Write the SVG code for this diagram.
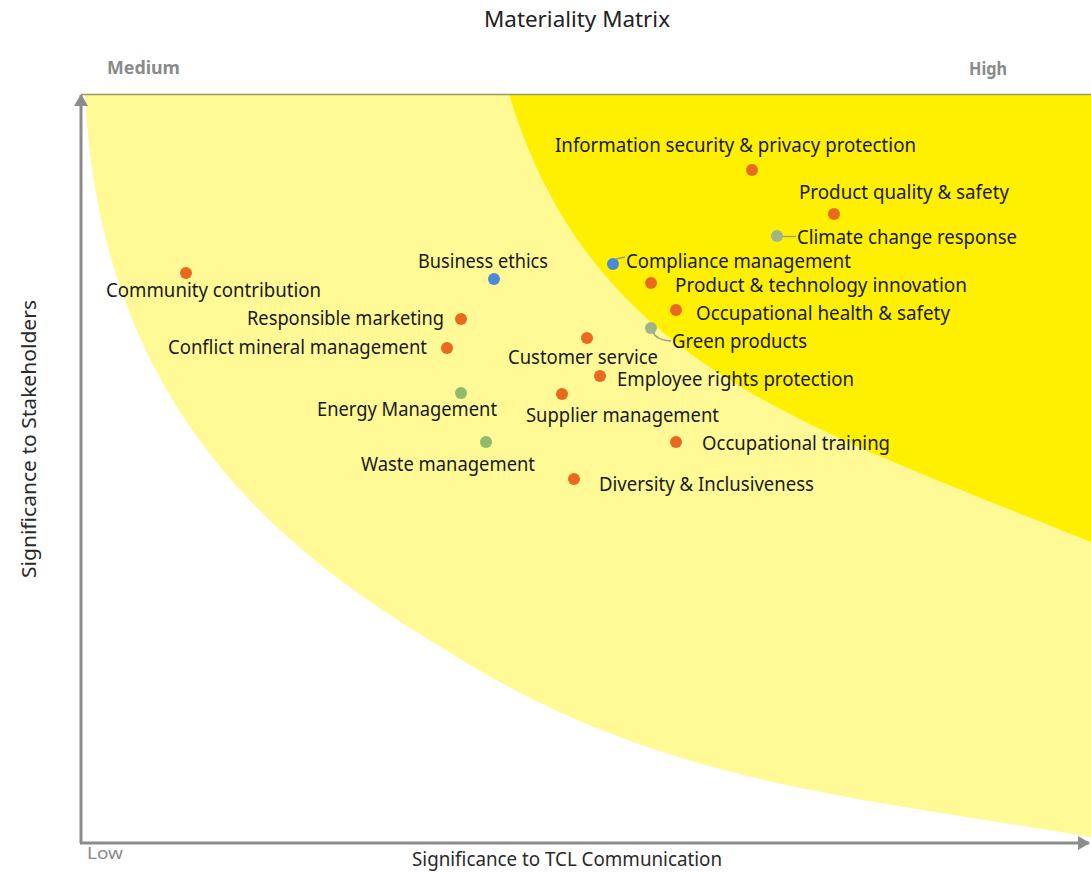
<svg xmlns="http://www.w3.org/2000/svg" width="1091" height="873" viewBox="0 0 1091 873">
<style>
.lbl{font-family:"Noto Sans","Liberation Sans",sans-serif;font-size:19.5px;fill:#1a1a1a}
.axl{font-family:"Noto Sans","Liberation Sans",sans-serif;font-size:19px;fill:#2a2a2a}
.lvl{font-family:"Noto Sans","Liberation Sans",sans-serif;font-size:18px;font-weight:bold;fill:#8a8a8a}
.or{fill:#E96A1E}
.bl{fill:#4A8AD6}
.gr{fill:#90BA6C}
.gg{fill:#A0B48C}
.lead{fill:none;stroke:#9a9a8a;stroke-width:1.3}
.axis{stroke:#8c8c8c;stroke-width:3;fill:none}
</style>
<defs>
<marker id="ah" viewBox="0 0 12 14" refX="11" refY="7" markerWidth="12" markerHeight="14" markerUnits="userSpaceOnUse" orient="auto">
<path d="M0,0 L12,7 L0,14 Z" fill="#8c8c8c"/>
</marker>
</defs>
<rect width="1091" height="873" fill="#ffffff"/>
<g id="zones">
<path d="M85,94 C100,400 270,545 441,647 C651,782 841,795 1091,837 L1091,94 Z" fill="#FFF996"/>
<path d="M509,94 C590,363 800,424 1091,542 L1091,94 Z" fill="#FFF000"/>
<line x1="81" y1="94.5" x2="1091" y2="94.5" stroke="#9a9a62" stroke-width="1.5"/>
</g>
<g id="axes">
<line class="axis" x1="81" y1="843" x2="81" y2="95" marker-end="url(#ah)"/>
<line class="axis" x1="80" y1="843" x2="1089" y2="843" marker-end="url(#ah)"/>
</g>
<text x="577" y="27" text-anchor="middle" font-family="Noto Sans, Liberation Sans, sans-serif" font-size="22" fill="#222" textLength="186" lengthAdjust="spacingAndGlyphs">Materiality Matrix</text>
<text class="lvl" x="107" y="74" textLength="73" lengthAdjust="spacingAndGlyphs">Medium</text>
<text class="lvl" x="969" y="75" textLength="38" lengthAdjust="spacingAndGlyphs">High</text>
<text x="87" y="859" font-family="Noto Sans, Liberation Sans, sans-serif" font-size="16" fill="#8a8a8a" textLength="36" lengthAdjust="spacingAndGlyphs">Low</text>
<text class="axl" x="412" y="866" textLength="310" lengthAdjust="spacingAndGlyphs">Significance to TCL Communication</text>
<text class="axl" transform="translate(36,578) rotate(-90)" x="0" y="0" textLength="278" lengthAdjust="spacingAndGlyphs">Significance to Stakeholders</text>
<g id="connectors">
<path class="lead" d="M782,236.5 L796,236.5"/>
<path class="lead" d="M616,259 L625,257"/>
<path class="lead" d="M653,332 Q656,340 671,341"/>
</g>
<g id="n-infosec"><circle class="or" cx="752" cy="170" r="6"/><text class="lbl" x="555" y="152" textLength="361" lengthAdjust="spacingAndGlyphs">Information security &amp; privacy protection</text></g>
<g id="n-quality"><circle class="or" cx="834" cy="214" r="6"/><text class="lbl" x="799" y="199" textLength="210" lengthAdjust="spacingAndGlyphs">Product quality &amp; safety</text></g>
<g id="n-climate"><circle class="gg" cx="777" cy="236" r="6"/><text class="lbl" x="797" y="244" textLength="220" lengthAdjust="spacingAndGlyphs">Climate change response</text></g>
<g id="n-compliance"><circle class="bl" cx="613" cy="264" r="6"/><text class="lbl" x="626" y="268" textLength="225" lengthAdjust="spacingAndGlyphs">Compliance management</text></g>
<g id="n-innovation"><circle class="or" cx="651" cy="283" r="6"/><text class="lbl" x="675" y="292" textLength="292" lengthAdjust="spacingAndGlyphs">Product &amp; technology innovation</text></g>
<g id="n-occhealth"><circle class="or" cx="676" cy="310" r="6"/><text class="lbl" x="696" y="320" textLength="254" lengthAdjust="spacingAndGlyphs">Occupational health &amp; safety</text></g>
<g id="n-green"><circle class="gg" cx="651" cy="328" r="6"/><text class="lbl" x="672" y="348" textLength="135" lengthAdjust="spacingAndGlyphs">Green products</text></g>
<g id="n-customer"><circle class="or" cx="587" cy="338" r="6"/><text class="lbl" x="508" y="364" textLength="150" lengthAdjust="spacingAndGlyphs">Customer service</text></g>
<g id="n-employee"><circle class="or" cx="600" cy="376" r="6"/><text class="lbl" x="617" y="386" textLength="237" lengthAdjust="spacingAndGlyphs">Employee rights protection</text></g>
<g id="n-supplier"><circle class="or" cx="562" cy="394" r="6"/><text class="lbl" x="526" y="422" textLength="193" lengthAdjust="spacingAndGlyphs">Supplier management</text></g>
<g id="n-training"><circle class="or" cx="676" cy="442" r="6"/><text class="lbl" x="702" y="450" textLength="188" lengthAdjust="spacingAndGlyphs">Occupational training</text></g>
<g id="n-diversity"><circle class="or" cx="574" cy="479" r="6"/><text class="lbl" x="599" y="491" textLength="215" lengthAdjust="spacingAndGlyphs">Diversity &amp; Inclusiveness</text></g>
<g id="n-ethics"><circle class="bl" cx="494" cy="279" r="6"/><text class="lbl" x="418" y="268" textLength="130" lengthAdjust="spacingAndGlyphs">Business ethics</text></g>
<g id="n-community"><circle class="or" cx="186" cy="273" r="6"/><text class="lbl" x="106" y="297" textLength="215" lengthAdjust="spacingAndGlyphs">Community contribution</text></g>
<g id="n-marketing"><circle class="or" cx="461" cy="319" r="6"/><text class="lbl" x="247" y="325" textLength="197" lengthAdjust="spacingAndGlyphs">Responsible marketing</text></g>
<g id="n-mineral"><circle class="or" cx="447" cy="348" r="6"/><text class="lbl" x="168" y="354" textLength="259" lengthAdjust="spacingAndGlyphs">Conflict mineral management</text></g>
<g id="n-energy"><circle class="gr" cx="461" cy="393" r="6"/><text class="lbl" x="317" y="416" textLength="180" lengthAdjust="spacingAndGlyphs">Energy Management</text></g>
<g id="n-waste"><circle class="gr" cx="486" cy="442" r="6"/><text class="lbl" x="361" y="471" textLength="174" lengthAdjust="spacingAndGlyphs">Waste management</text></g>
</svg>
